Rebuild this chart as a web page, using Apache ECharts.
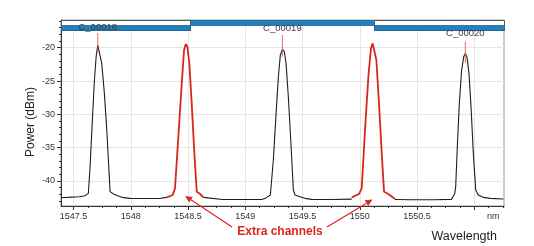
<!DOCTYPE html>
<html><head><meta charset="utf-8">
<script src="https://cdn.jsdelivr.net/npm/echarts@6/dist/echarts.min.js"></script>
<style>html,body{margin:0;padding:0;background:#fff}#c{width:534px;height:246px}</style>
</head><body><div id="c"></div>
<script>
// ---------- data ----------
const xMin = 1547.39, xMax = 1551.26;
const yMin = -43.75, yMax = -15.84;
const xMajorTicks = [1547.5, 1548, 1548.5, 1549, 1549.5, 1550, 1550.5, 1551];
const xMinorTicks = [1547.5, 1547.625, 1547.75, 1547.875, 1548, 1548.125, 1548.25, 1548.375,
  1548.5, 1548.625, 1548.75, 1548.875, 1549, 1549.125, 1549.25, 1549.375,
  1549.5, 1549.625, 1549.75, 1549.875, 1550, 1550.125, 1550.25, 1550.375,
  1550.5, 1550.625, 1550.75, 1550.875, 1551, 1551.125, 1551.25];
const yMajorTicks = [-40, -35, -30, -25, -20];
const yMinorTicks = [-43, -42, -41, -40, -39, -38, -37, -36, -35, -34, -33, -32, -31, -30,
  -29, -28, -27, -26, -25, -24, -23, -22, -21, -20, -19, -18, -17, -16];

// measured spectrum (black = existing channels), null = break
const blackWl = [
  1547.39, 1547.45, 1547.55, 1547.60, 1547.615, 1547.629, 1547.644, 1547.664, 1547.682, 1547.697,
  1547.711, 1547.725, 1547.746, 1547.769, 1547.790, 1547.807, 1547.819, 1547.848, 1547.891, 1547.935,
  1547.993, 1548.10, 1548.25, 1548.314,
  null,
  1548.634, 1548.648, 1548.80, 1549.00, 1549.15, 1549.175, 1549.219, 1549.225, 1549.245, 1549.269,
  1549.289, 1549.306, 1549.324, 1549.341, 1549.356, 1549.376, 1549.397, 1549.42, 1549.434, 1549.478,
  1549.522, 1549.58, 1549.75, 1549.93,
  null,
  1550.308, 1550.45, 1550.65, 1550.80, 1550.815, 1550.83, 1550.838, 1550.852, 1550.870, 1550.890,
  1550.908, 1550.922, 1550.937, 1550.954, 1550.972, 1550.992, 1551.013, 1551.035, 1551.079, 1551.138,
  1551.254];
const blackDbm = [
  -42.47, -42.45, -42.36, -42.2, -42.1, -41.85, -37.85, -30.85, -24.85, -21.35,
  -19.6, -19.75, -22.35, -26.85, -32.35, -37.85, -41.6, -41.95, -42.25, -42.5,
  -42.6, -42.62, -42.62, -42.45,
  null,
  -42.45, -42.75, -42.78, -42.78, -42.75, -42.6, -42.1, -41.85, -36.85, -29.85,
  -24.35, -21.1, -20.25, -20.6, -22.35, -27.35, -33.85, -41.35, -42.1, -42.35,
  -42.6, -42.75, -42.78, -42.72,
  null,
  -42.78, -42.82, -42.82, -42.75, -42.35, -41.85, -40.85, -34.85, -28.35, -23.35,
  -21.35, -20.85, -21.45, -23.85, -28.85, -35.85, -41.35, -42.1, -42.45, -42.6,
  -42.7];

// extra channels (red)
const redWl = [
  1548.314, 1548.366, 1548.386, 1548.415, 1548.445, 1548.465, 1548.48, 1548.494, 1548.511, 1548.532,
  1548.555, 1548.576, 1548.605, 1548.634,
  null,
  1549.93, 1549.993, 1550.017, 1550.046, 1550.075, 1550.098, 1550.113, 1550.127, 1550.145, 1550.168,
  1550.192, 1550.212, 1550.249, 1550.308];
const redDbm = [
  -42.45, -42.1, -41.1, -33.35, -25.35, -20.35, -19.45, -19.85, -22.35, -28.35,
  -35.85, -41.6, -41.95, -42.45,
  null,
  -42.45, -41.95, -41.1, -32.35, -24.35, -20.1, -19.35, -19.5, -21.85, -28.35,
  -35.85, -41.6, -41.95, -42.7];

// channel markers
const channelNames = ['C_00018', 'C_00019', 'C_00020'];
const channelWl = [1547.711, 1549.324, 1550.922];
const channelLabelDbm = [-16.89, -17.04, -17.87];
const markerTopDbm = [-17.79, -18.09, -19.1];
const markerBottomDbm = [-20.79, -21.35, -22.34];

// channel bands across the top (row 0 = upper, 1 = lower)
const bandEdges = [1547.39, 1548.517, 1550.124, 1551.26];
const bandRow = [1, 0, 1];

// annotation
const annotationText = 'Extra channels';
const annotationAt = [1549.303, -47.65];
const arrowTailWl = [1548.884, 1549.714];
const arrowTailDbm = [-46.9, -46.9];
const arrowTipWl = [1548.474, 1550.111];
const arrowTipDbm = [-42.25, -42.78];

// ---------- chart ----------
const FONT = '"Liberation Sans", Arial, sans-serif';
const RED = '#d8271d';
const toPairs = (xs, ys) => xs.map((x, i) => (x === null || ys[i] === null) ? ['-', '-'] : [x, ys[i]]);

const chart = echarts.init(document.getElementById('c'), null, {renderer: 'canvas'});

const option = {
  animation: false,
  backgroundColor: '#fff',
  textStyle: {fontFamily: FONT},
  grid: {left: 61, top: 20, width: 443, height: 186, show: true, borderColor: '#9a9a9a', borderWidth: 1, backgroundColor: 'transparent'},
  xAxis: [
    {type: 'value', min: xMin, max: xMax, position: 'bottom',
      axisLine: {show: true, lineStyle: {color: '#333', width: 1}},
      axisTick: {show: true, customValues: xMinorTicks, length: 2, lineStyle: {color: '#333'}},
      axisLabel: {show: false}, splitLine: {show: false}},
    {type: 'value', min: xMin, max: xMax, position: 'bottom',
      axisLine: {show: false},
      axisTick: {show: true, customValues: xMajorTicks, length: 4, lineStyle: {color: '#333'}},
      axisLabel: {show: true, customValues: xMajorTicks, margin: 6, color: '#333', fontSize: 9, fontFamily: FONT,
        formatter: v => v === 1551 ? '{nm|nm}' : String(v),
        rich: {nm: {padding: [0, 0, 0, 38], fontSize: 9, color: '#333', fontFamily: FONT}}},
      splitLine: {show: true, lineStyle: {color: '#e6e6e6', width: 1}},
      name: 'Wavelength', nameLocation: 'end', nameGap: -7, nameMoveOverlap: false,
      nameTextStyle: {align: 'right', verticalAlign: 'top', padding: [24, 0, 0, 0], fontSize: 12.5, color: '#222', fontFamily: FONT}}
  ],
  yAxis: [
    {type: 'value', min: yMin, max: yMax, position: 'left',
      axisLine: {show: true, lineStyle: {color: '#333', width: 1}},
      axisTick: {show: true, customValues: yMinorTicks, length: 2, lineStyle: {color: '#333'}},
      axisLabel: {show: false}, splitLine: {show: false}},
    {type: 'value', min: yMin, max: yMax, position: 'left',
      axisLine: {show: false},
      axisTick: {show: true, customValues: yMajorTicks, length: 4, lineStyle: {color: '#333'}},
      axisLabel: {show: true, customValues: yMajorTicks, margin: 6, color: '#333', fontSize: 9, fontFamily: FONT},
      splitLine: {show: true, lineStyle: {color: '#e6e6e6', width: 1}},
      name: 'Power (dBm)', nameLocation: 'middle', nameGap: 24, nameMoveOverlap: false,
      nameTextStyle: {fontSize: 12, color: '#222', fontFamily: FONT, padding: [0, 18, 0, 0]}}
  ],
  series: [
    {type: 'line', name: 'spectrum', data: toPairs(blackWl, blackDbm), showSymbol: false, symbol: 'none',
      connectNulls: false, lineStyle: {color: '#1e1e1e', width: 1.1}, z: 3},
    {type: 'line', name: 'extra', data: toPairs(redWl, redDbm), showSymbol: false, symbol: 'none',
      connectNulls: false, lineStyle: {color: RED, width: 1.8}, z: 4},
    {type: 'custom', name: 'bands', z: 6,
      data: bandRow.map((r, i) => [bandEdges[i], bandEdges[i + 1], r]),
      encode: {x: [0, 1]},
      renderItem: (params, api) => {
        const cs = params.coordSys;
        const x0 = Math.round(api.coord([api.value(0), yMax])[0]) + 0.5;
        const x1 = Math.round(api.coord([api.value(1), yMax])[0]) + 0.5;
        const top = Math.round(cs.y) + 0.5;
        const h = 5;
        const row = api.value(2);
        if (row === 1) {
          return {type: 'group', children: [
            {type: 'rect', shape: {x: x0, y: top, width: x1 - x0, height: 2 * h},
              style: {fill: '#fff', stroke: '#5a5a5a', lineWidth: 1}},
            {type: 'rect', shape: {x: x0, y: top + h, width: x1 - x0, height: h},
              style: {fill: '#1f80c2', stroke: '#2a5f88', lineWidth: 0.8}}
          ]};
        }
        return {type: 'rect', shape: {x: x0, y: top, width: x1 - x0, height: h},
          style: {fill: '#1f80c2', stroke: '#2a5f88', lineWidth: 0.8}};
      }},
    {type: 'custom', name: 'channels', z: 7,
      data: channelWl.map((w, i) => [w, channelLabelDbm[i], markerTopDbm[i], markerBottomDbm[i], i]),
      renderItem: (params, api) => {
        const w = api.value(0);
        const pl = api.coord([w, api.value(1)]);
        const pt = api.coord([w, api.value(2)]);
        const pb = api.coord([w, api.value(3)]);
        return {type: 'group', children: [
          {type: 'line', shape: {x1: pt[0], y1: pt[1], x2: pb[0], y2: pb[1]},
            style: {stroke: '#e0564f', lineWidth: 1, opacity: 0.85}},
          {type: 'text', style: {text: channelNames[api.value(4)], x: pl[0], y: pl[1],
            align: 'center', verticalAlign: 'middle', fill: '#3c3c3c', font: '9.5px ' + FONT}}
        ]};
      }}
  ]
};
chart.setOption(option);

// annotation arrows + text, positioned via the axes
const toPx = p => chart.convertToPixel({xAxisIndex: 0, yAxisIndex: 0}, p);
function arrow(tail, tip) {
  const dx = tip[0] - tail[0], dy = tip[1] - tail[1], L = Math.hypot(dx, dy);
  const ux = dx / L, uy = dy / L, hl = 7, hw = 3.3;
  const bx = tip[0] - ux * hl, by = tip[1] - uy * hl;
  return [
    {type: 'line', shape: {x1: tail[0], y1: tail[1], x2: bx, y2: by}, style: {stroke: RED, lineWidth: 1.2}, z: 10},
    {type: 'polygon', shape: {points: [tip, [bx - uy * hw, by + ux * hw], [bx + uy * hw, by - ux * hw]]}, style: {fill: RED}, z: 10}
  ];
}
const graphics = [];
arrowTipWl.forEach((w, i) => {
  graphics.push(...arrow(toPx([arrowTailWl[i], arrowTailDbm[i]]), toPx([w, arrowTipDbm[i]])));
});
const tp = toPx(annotationAt);
graphics.push({type: 'text', x: tp[0], y: tp[1], z: 10,
  style: {text: annotationText, align: 'center', verticalAlign: 'middle', fill: RED, font: 'bold 12px ' + FONT}});
chart.setOption({graphic: graphics});
</script>
</body></html>
